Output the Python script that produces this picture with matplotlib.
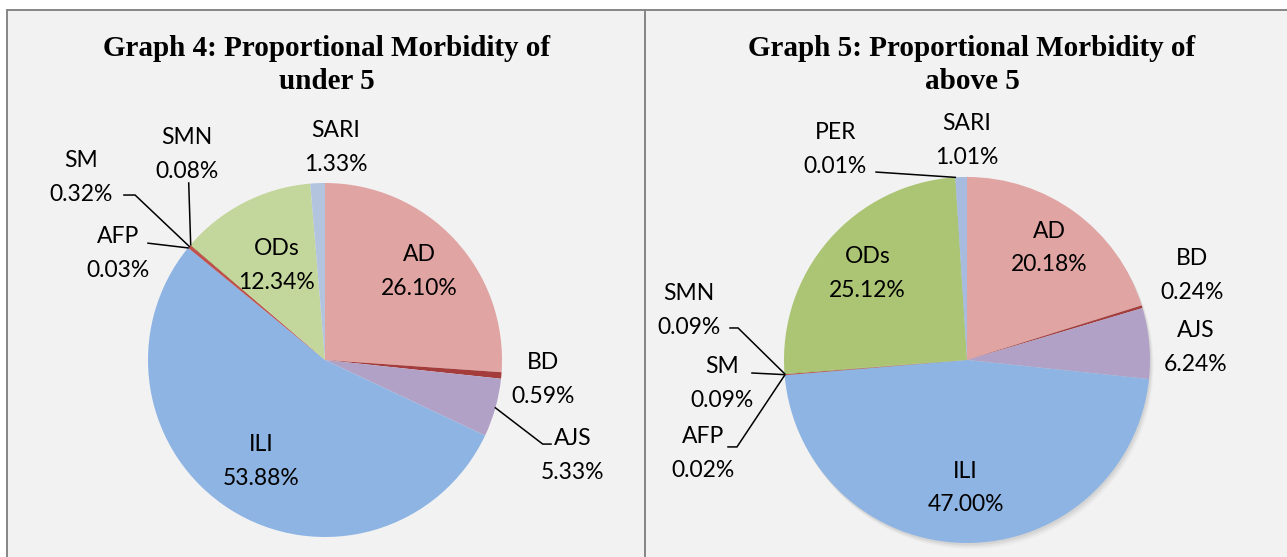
import numpy as np
import matplotlib
matplotlib.use('Agg')
import matplotlib.pyplot as plt
from matplotlib.patches import Circle

# data
cats_u5 = ['AD', 'BD', 'AJS', 'ILI', 'AFP', 'SM', 'SMN', 'ODs', 'SARI']
vals_u5 = [26.10, 0.59, 5.33, 53.88, 0.03, 0.32, 0.08, 12.34, 1.33]
cols_u5 = ['#e0a4a3', '#a33c3a', '#b2a1c7', '#8eb4e3', '#4f81bd',
           '#c0504d', '#9bbb59', '#c3d69b', '#b3c4de']

cats_a5 = ['AD', 'BD', 'AJS', 'ILI', 'AFP', 'SM', 'SMN', 'ODs', 'PER', 'SARI']
vals_a5 = [20.18, 0.24, 6.24, 47.00, 0.02, 0.09, 0.09, 25.12, 0.01, 1.01]
cols_a5 = ['#e0a4a3', '#a33c3a', '#b2a1c7', '#8eb4e3', '#4f81bd',
           '#c0504d', '#9bbb59', '#abc574', '#4bacc6', '#a7bbde']

titles = ['Graph 4: Proportional Morbidity of\nunder 5',
          'Graph 5: Proportional Morbidity of\nabove 5']

W, H = 1287, 557
LBL_FONT = 'Lato'
TTL_FONT = 'Liberation Serif'

fig = plt.figure(figsize=(W / 100, H / 100), dpi=100)
fig.patch.set_facecolor('white')


def panel(x0, x1, cx, cy, r, spines):
    ax = fig.add_axes([x0 / W, 0, (x1 - x0) / W, (H - 10) / H])
    ax.set_facecolor('#f2f2f2')
    ax.set_xlim((x0 - cx) / r, (x1 - cx) / r)
    ax.set_ylim((cy - H) / r, (cy - 10) / r)
    ax.set_xticks([])
    ax.set_yticks([])
    for s in ['left', 'right', 'top', 'bottom']:
        ax.spines[s].set_visible(s in spines)
        ax.spines[s].set_color('#868686')
        ax.spines[s].set_linewidth(1.4)
    return ax


def draw(ax, vals, cats, cols, inner, outer, leaders, title, tx, ty, shadow=False):
    if shadow:
        for k, a in [(0.012, 0.12), (0.022, 0.09), (0.032, 0.06)]:
            ax.add_patch(Circle((k * 0.6, -k), 1.0, color='#7f7f7f', alpha=a, lw=0, zorder=1))
    wedges, _ = ax.pie(vals, colors=cols, startangle=90, counterclock=False,
                       radius=1, center=(0, 0), frame=True,
                       wedgeprops=dict(linewidth=0, zorder=2))
    for w, c, v in zip(wedges, cats, vals):
        txt = f'{c}\n{v:.2f}%'
        mid = np.deg2rad((w.theta1 + w.theta2) / 2)
        if c in inner:
            d = inner[c]
            x, y = d * np.cos(mid), d * np.sin(mid)
        else:
            x, y = outer[c]
        ax.text(x, y, txt, ha='center', va='center', fontsize=16.5,
                family=LBL_FONT, linespacing=1.75, zorder=5)
        if c in leaders:
            pts = [(np.cos(mid), np.sin(mid))] + leaders[c]
            xs, ys = zip(*pts)
            ax.plot(xs, ys, color='black', lw=1.1, zorder=4, solid_joinstyle='miter')
    ax.text(tx, ty, title, ha='center', va='center', fontsize=21,
            fontweight='bold', family=TTL_FONT, linespacing=1.25, zorder=5)


# left panel: under 5
ax1 = panel(7, 645, 325, 360, 177, ['left', 'top', 'right'])
draw(ax1, vals_u5, cats_u5, cols_u5,
     inner={'AD': 0.73, 'ODs': 0.60, 'ILI': 0.68},
     outer={'BD': (1.23, -0.11), 'AJS': (1.40, -0.54), 'AFP': (-1.17, 0.60),
            'SM': (-1.38, 1.03), 'SMN': (-0.78, 1.16), 'SARI': (0.06, 1.20)},
     leaders={'AJS': [(1.23, -0.475), (1.277, -0.475)],
              'AFP': [(-1.0, 0.66)],
              'SM': [(-1.073, 0.932), (-1.136, 0.932)],
              'SMN': [(-0.77, 1.0)]},
     title=titles[0], tx=(327 - 325) / 177, ty=(360 - 65) / 177)

# right panel: above 5
ax2 = panel(645, 1287, 967, 360, 183, ['left', 'top'])
draw(ax2, vals_a5, cats_a5, cols_a5,
     inner={'AD': 0.76, 'ODs': 0.72, 'ILI': 0.70},
     outer={'BD': (1.23, 0.46), 'AJS': (1.25, 0.07), 'SMN': (-1.52, 0.27),
            'SM': (-1.34, -0.13), 'AFP': (-1.44, -0.51), 'PER': (-0.72, 1.15),
            'SARI': (0.0, 1.20)},
     leaders={'PER': [(-0.497, 1.027)],
              'SMN': [(-1.251, 0.175), (-1.295, 0.175)],
              'SM': [(-1.175, -0.071)],
              'AFP': [(-1.257, -0.475), (-1.306, -0.475)]},
     title=titles[1], tx=(972 - 967) / 183, ty=(360 - 65) / 183, shadow=True)

fig.savefig('out.png', dpi=100, facecolor='white')
